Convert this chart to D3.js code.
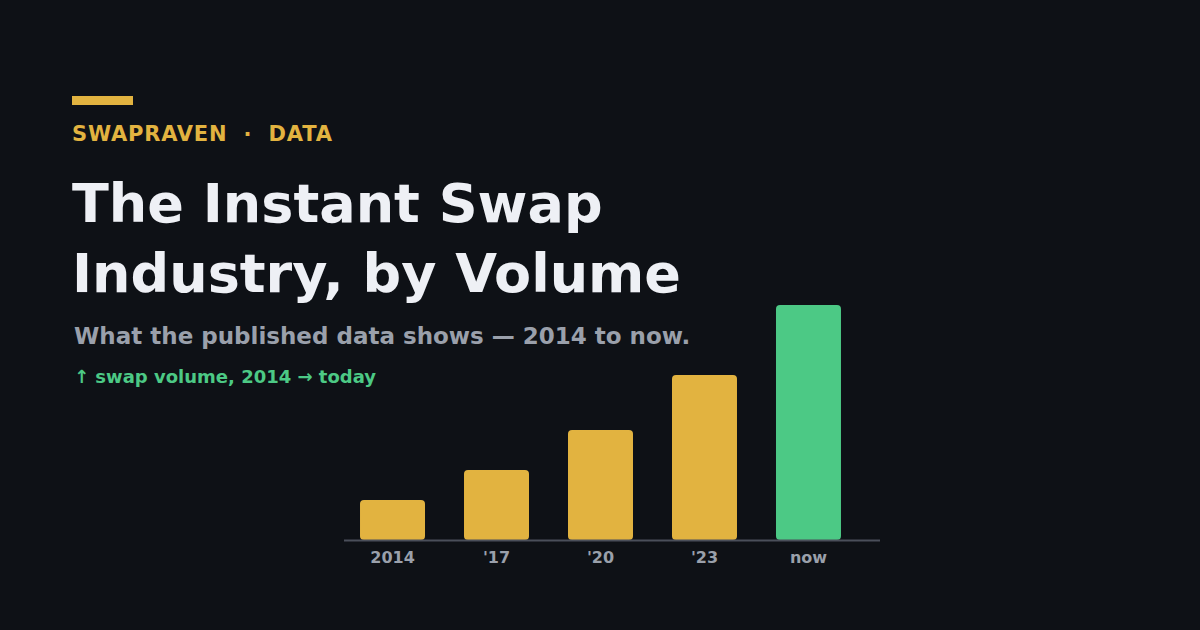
<!DOCTYPE html>
<html lang="en">
<head>
<meta charset="utf-8">
<title>Instant Swap Industry by Volume</title>
<script src="https://d3js.org/d3.v7.min.js"></script>
<style>
  html, body { margin: 0; padding: 0; background: #0e1116; }
  svg { display: block; font-family: "DejaVu Sans", sans-serif; }
</style>
</head>
<body>
<script>
// chart data
var categories = ["2014", "'17", "'20", "'23", "now"];
var volumes = [40, 70, 110, 165, 235];
var highlight = ["now"];

var w = 1200, h = 630;
var baseY = 540;

var svg = d3.select("body").append("svg")
  .attr("width", w)
  .attr("height", h);

svg.append("rect")
  .attr("width", w).attr("height", h)
  .attr("fill", "#0e1116");

// header
svg.append("rect")
  .attr("x", 72).attr("y", 96)
  .attr("width", 61).attr("height", 9)
  .attr("fill", "#e2b340");

svg.append("text")
  .attr("x", 72).attr("y", 141)
  .attr("fill", "#e2b340")
  .attr("font-size", 21)
  .attr("font-weight", "bold")
  .attr("letter-spacing", 0.8)
  .attr("xml:space", "preserve")
  .text("SWAPRAVEN  ·  DATA");

var title = ["The Instant Swap", "Industry, by Volume"];
svg.selectAll("text.title")
  .data(title)
  .enter()
  .append("text")
  .attr("class", "title")
  .attr("x", 72)
  .attr("y", (d, i) => 222 + i * 70)
  .attr("fill", "#eef0f5")
  .attr("font-size", 54)
  .attr("font-weight", "bold")
  .text(d => d);

svg.append("text")
  .attr("x", 74).attr("y", 344)
  .attr("fill", "#9aa0ab")
  .attr("font-size", 23)
  .attr("font-weight", "bold")
  .text("What the published data shows — 2014 to now.");

svg.append("text")
  .attr("x", 74).attr("y", 383)
  .attr("fill", "#4cc985")
  .attr("font-size", 18)
  .attr("font-weight", "bold")
  .text("↑ swap volume, 2014 → today");

// scales
var xScale = d3.scaleBand()
  .domain(categories)
  .range([344, 857])
  .paddingInner(0.375)
  .paddingOuter(0.154);

var yScale = d3.scaleLinear()
  .domain([0, d3.max(volumes)])
  .range([baseY, 305]);

// bars
svg.selectAll("rect.bar")
  .data(categories)
  .enter()
  .append("rect")
  .attr("class", "bar")
  .attr("x", d => xScale(d))
  .attr("y", (d, i) => yScale(volumes[i]))
  .attr("width", xScale.bandwidth())
  .attr("height", (d, i) => baseY - yScale(volumes[i]))
  .attr("rx", 4)
  .attr("fill", d => highlight.includes(d) ? "#4cc985" : "#e2b340");

// baseline
svg.append("line")
  .attr("x1", 344).attr("x2", 880)
  .attr("y1", baseY + 0.5).attr("y2", baseY + 0.5)
  .attr("stroke", "#4a4f5a")
  .attr("stroke-width", 2);

// x axis labels
var xAxis = d3.axisBottom(xScale).tickSize(0).tickPadding(12);
var gx = svg.append("g")
  .attr("transform", "translate(0," + baseY + ")")
  .call(xAxis);
gx.select(".domain").remove();
gx.selectAll("text")
  .attr("fill", "#9aa0ab")
  .attr("font-size", 16)
  .attr("font-weight", "bold")
  .attr("font-family", "DejaVu Sans, sans-serif");
</script>
</body>
</html>
